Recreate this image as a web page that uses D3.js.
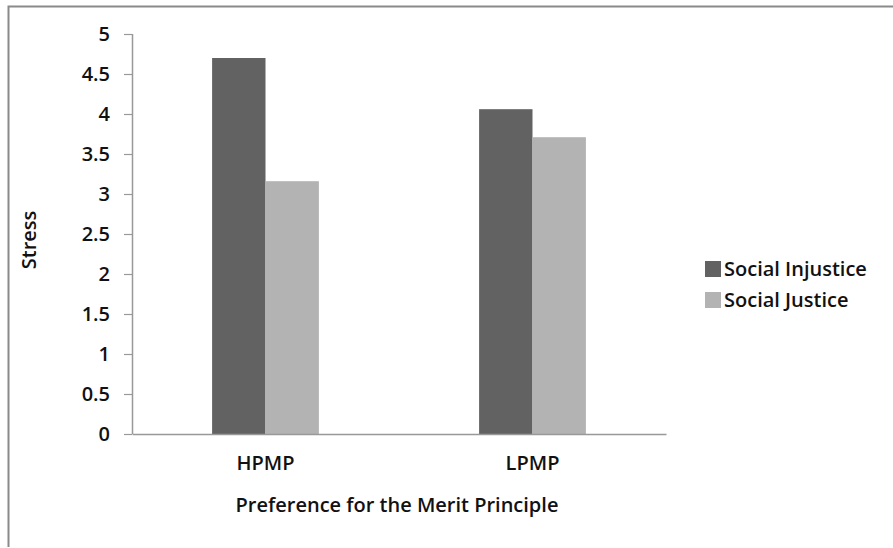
<!DOCTYPE html>
<html>
<head>
<meta charset="utf-8">
<script src="https://cdn.jsdelivr.net/npm/d3@7"></script>
<style>
  body { margin: 0; background: #fff; }
  text { font-family: "Open Sans", "Noto Sans", sans-serif; fill: #111; }
</style>
</head>
<body>
<svg id="chart" width="893" height="548"></svg>
<script>
const categories = ["HPMP", "LPMP"];
const seriesNames = ["Social Injustice", "Social Justice"];
const injustice = [4.7, 4.06];
const justice = [3.16, 3.71];
const yTicks = [0, 0.5, 1, 1.5, 2, 2.5, 3, 3.5, 4, 4.5, 5];
const colors = ["#626262", "#b3b3b3"];

const svg = d3.select("#chart");
const fs = "20px";

// outer frame
svg.append("path")
  .attr("d", "M8.5,547 L8.5,6.5 L893,6.5")
  .attr("fill", "none")
  .attr("stroke", "#8a8a8a")
  .attr("stroke-width", 2);

const margin = { top: 34, left: 132, right: 227, bottom: 114 };
const width = 893 - margin.left - margin.right;
const height = 548 - margin.top - margin.bottom;

const g = svg.append("g").attr("transform", "translate(" + margin.left + "," + margin.top + ")");

const x = d3.scaleBand().domain(categories).range([0, width]).paddingInner(0.6).paddingOuter(0.3);
const xs = d3.scaleBand().domain(seriesNames).range([0, x.bandwidth()]);
const y = d3.scaleLinear().domain([0, 5]).range([height, 0]);

const data = categories.map((c, i) => ({ cat: c, vals: [injustice[i], justice[i]] }));

g.selectAll(".grp")
  .data(data)
  .join("g")
    .attr("class", "grp")
    .attr("transform", d => "translate(" + x(d.cat) + ",0)")
  .selectAll("rect")
  .data(d => d.vals.map((v, j) => ({ v: v, s: seriesNames[j], j: j })))
  .join("rect")
    .attr("x", d => xs(d.s))
    .attr("y", d => y(d.v))
    .attr("width", xs.bandwidth())
    .attr("height", d => height - y(d.v))
    .attr("fill", d => colors[d.j]);

// y axis
const yAxis = g.append("g")
  .call(d3.axisLeft(y).tickValues(yTicks).tickFormat(d3.format("")).tickSize(8).tickPadding(14));
yAxis.select(".domain").attr("stroke", "#999").attr("stroke-width", 1.5).attr("d", "M0.5,0 V" + height);
yAxis.selectAll(".tick line").attr("stroke", "#999").attr("stroke-width", 1.2);
yAxis.selectAll(".tick text").style("font-size", fs).style("font-weight", 600).attr("fill", "#111");

// x axis
const xAxis = g.append("g")
  .attr("transform", "translate(0," + height + ")")
  .call(d3.axisBottom(x).tickSize(0).tickPadding(22));
xAxis.select(".domain").attr("stroke", "#999").attr("stroke-width", 1.5);
xAxis.selectAll(".tick text").style("font-size", fs).style("font-weight", 600).attr("fill", "#111");

// axis titles
svg.append("text")
  .attr("transform", "translate(36,240) rotate(-90)")
  .attr("text-anchor", "middle")
  .style("font-size", fs)
  .style("font-weight", 600)
  .text("Stress");

svg.append("text")
  .attr("x", 397)
  .attr("y", 512)
  .attr("text-anchor", "middle")
  .style("font-size", fs)
  .style("font-weight", 600)
  .text("Preference for the Merit Principle");

// legend
const legend = svg.append("g").attr("transform", "translate(705,261)");
const li = legend.selectAll("g")
  .data(seriesNames)
  .join("g")
    .attr("transform", (d, i) => "translate(0," + i * 31 + ")");
li.append("rect")
  .attr("width", 16)
  .attr("height", 16)
  .attr("fill", (d, i) => colors[i]);
li.append("text")
  .attr("x", 19)
  .attr("y", 15)
  .style("font-size", fs)
  .style("font-weight", 600)
  .text(d => d);
</script>
</body>
</html>
